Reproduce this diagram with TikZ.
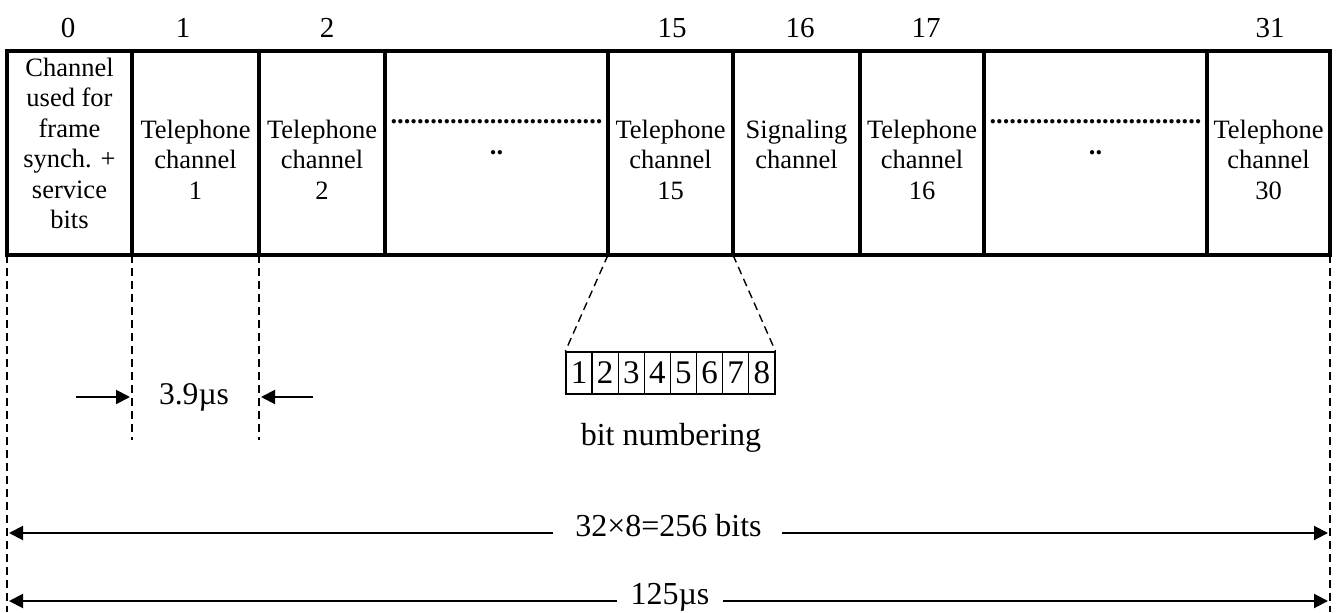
\documentclass[tikz,border=0pt]{standalone}
\usepackage{fontspec}
\setmainfont{Liberation Serif}
\usetikzlibrary{positioning, arrows.meta}

\tikzset{
  slot/.style={draw, line width=1.6pt, minimum height=102pt, minimum width=#1, inner sep=0pt, outer sep=0pt},
  boxtext/.style={font=\fontsize{13.25}{15.25}\selectfont, align=center, inner sep=0pt, execute at begin node=\strut},
  slotnum/.style={font=\fontsize{14.5}{17}\selectfont, inner sep=0pt},
  bitcell/.style={draw, line width=0.7pt, minimum width=13.05pt, minimum height=21pt, inner sep=0pt, font=\fontsize{16.5}{19}\selectfont},
  guide/.style={line width=0.7pt, dash pattern=on 4pt off 2.5pt},
  dimarrow/.style={-{Triangle[length=7pt,width=7pt]}, line width=1pt, shorten >=1pt},
  dimlabel/.style={font=\fontsize{16}{19}\selectfont, inner sep=0pt}
}

\begin{document}
\begin{tikzpicture}[x=0.5pt, y=0.5pt]
  \useasboundingbox (0,0) rectangle (1338,612);

  % the 32 time slots of the frame
  \node[slot=62.5pt] (c0) at (69.5,459) {};
  \node[slot=63.5pt, right=0pt of c0] (c1) {};
  \node[slot=63pt, right=0pt of c1] (c2) {};
  \node[slot=111.5pt, right=0pt of c2] (cA) {};
  \node[slot=62.5pt, right=0pt of cA] (c15) {};
  \node[slot=63.5pt, right=0pt of c15] (c16) {};
  \node[slot=62pt, right=0pt of c16] (c17) {};
  \node[slot=111.5pt, right=0pt of c17] (cB) {};
  \node[slot=61.5pt, right=0pt of cB] (c31) {};

  \node[boxtext, below=3.3pt of c0.north] (t0) {Channel\\used for\\frame\\synch. +\\service\\bits};
  \node[boxtext, below=34.3pt of c1.north] (t1) {Telephone\\channel\\1};
  \node[boxtext, below=34.3pt of c2.north] (t2) {Telephone\\channel\\2};
  \node[boxtext, below=34.3pt of cA.north, font=\fontsize{13.25}{15.25}\selectfont\bfseries] (tA) {................................\\..};
  \node[boxtext, below=34.3pt of c15.north] (t15) {Telephone\\channel\\15};
  \node[boxtext, below=34.3pt of c16.north] (t16) {Signaling\\channel};
  \node[boxtext, below=34.3pt of c17.north] (t17) {Telephone\\channel\\16};
  \node[boxtext, below=34.3pt of cB.north, font=\fontsize{13.25}{15.25}\selectfont\bfseries] (tB) {................................\\..};
  \node[boxtext, below=34.3pt of c31.north] (t31) {Telephone\\channel\\30};

  % slot numbers
  \node[slotnum] (n0) at (68,584) {0};
  \node[slotnum] (n1) at (183,584) {1};
  \node[slotnum] (n2) at (327,584) {2};
  \node[slotnum] (n15) at (672,584) {15};
  \node[slotnum] (n16) at (800,584) {16};
  \node[slotnum] (n17) at (926,584) {17};
  \node[slotnum] (n31) at (1270,584) {31};

  % guide lines
  \coordinate (floor) at (0,0);
  \coordinate (tickend) at (0,172);
  \draw[guide] (c0.south west) -- (c0.south west |- floor);
  \draw[guide] (c31.south east) -- (c31.south east |- floor);
  \draw[guide] (c1.south west) -- (c1.south west |- tickend);
  \draw[guide] (c2.south west) -- (c2.south west |- tickend);

  % bits of one slot
  \foreach \i in {1,...,8}
    \node[bitcell] (b\i) at ({566+26.1*(\i-0.5)},239) {\i};
  \draw[guide] (c15.south west) -- (b1.north west);
  \draw[guide] (c15.south east) -- (b8.north east);
  \node[dimlabel] (bitnum) at (671,174) {bit numbering};

  % slot length
  \node[dimlabel, font=\fontsize{15.8}{19}\selectfont] (slotlen) at (194,215) {3.9µs};
  \coordinate (la) at (76,215);
  \coordinate (ra) at (313,215);
  \draw[dimarrow] (la) -- (la -| c1.south west);
  \draw[dimarrow] (ra) -- (ra -| c2.south west);

  % frame length
  \node[dimlabel] (bits) at (668.5,86) {32×8=256 bits};
  \coordinate (bitsl) at (553,79);
  \coordinate (bitsr) at (782,79);
  \draw[dimarrow] (bitsl) -- (bitsl -| c0.south west);
  \draw[dimarrow] (bitsr) -- (bitsr -| c31.south east);
  \node[dimlabel] (frame) at (670,15) {125µs};
  \coordinate (framel) at (617,11);
  \coordinate (framer) at (723,11);
  \draw[dimarrow] (framel) -- (framel -| c0.south west);
  \draw[dimarrow] (framer) -- (framer -| c31.south east);
\end{tikzpicture}
\end{document}
